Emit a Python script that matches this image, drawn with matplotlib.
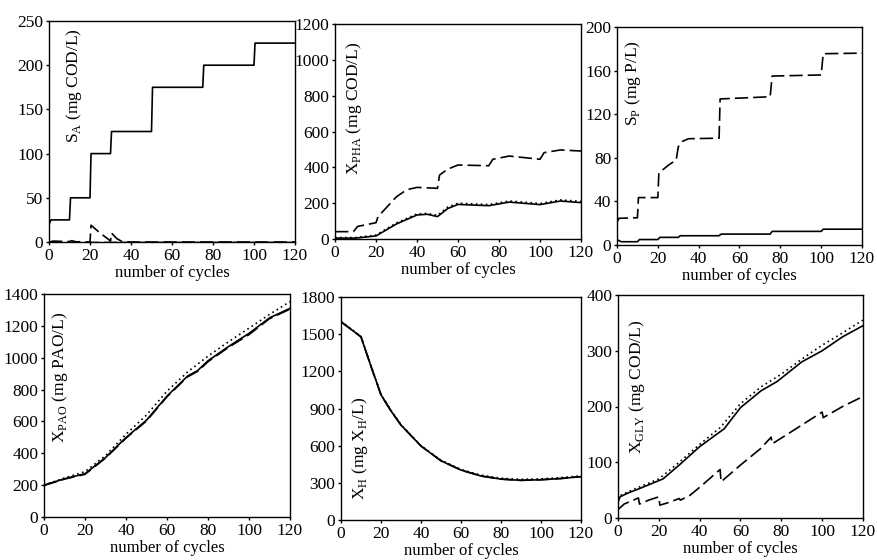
import numpy as np
import matplotlib
matplotlib.use('Agg')
import matplotlib.pyplot as plt

plt.rcParams['font.family'] = ['Liberation Serif', 'DejaVu Serif']
plt.rcParams['mathtext.fontset'] = 'custom'
plt.rcParams['mathtext.rm'] = 'Liberation Serif'
plt.rcParams['font.size'] = 12

# ---- S_A ----
sa_solid_x = [0, 1, 10, 10.5, 20, 20.5, 30, 30.5, 50, 50.5, 75, 75.5, 100, 100.5, 120]
sa_solid_y = [20, 25, 25, 50, 50, 100, 100, 125, 125, 175, 175, 200, 200, 225, 225]
sa_dash_x = [0, 2, 10, 11, 13, 20, 20.5, 25, 29, 30, 30.5, 33, 36, 120]
sa_dash_y = [0, 1, 0.5, 1.5, 0.3, 0, 19, 10, 3, 1, 10, 4, 0, 0]
sa_dot_x = [0, 120]
sa_dot_y = [0, 0]

# ---- X_PHA ----
pha_solid_x = [0, 10, 20, 30, 40, 45, 50, 55, 60, 75, 85, 100, 110, 120]
pha_solid_y = [5, 5, 17, 84, 134, 138, 125, 170, 193, 186, 206, 192, 212, 203]
pha_dot_x = [0, 10, 20, 30, 40, 45, 50, 55, 60, 75, 85, 100, 110, 120]
pha_dot_y = [8, 8, 22, 90, 140, 143, 132, 178, 200, 192, 212, 198, 218, 210]
pha_dash_x = [0, 9, 11, 20, 21, 30, 35, 40, 50, 51, 55, 60, 75, 77, 85, 100, 102, 110, 120]
pha_dash_y = [41, 41, 70, 91, 125, 236, 275, 288, 283, 357, 390, 413, 409, 445, 463, 445, 482, 497, 491]

# ---- S_P ----
sp_solid_x = [0, 2, 10, 11, 20, 21, 30, 31, 50, 51, 75, 76, 100, 101, 120]
sp_solid_y = [5, 3, 3, 5, 5, 7, 7, 8.5, 8.5, 10, 10, 12.5, 12.5, 14.5, 14.5]
sp_dash_x = [0, 1, 10, 10.5, 20, 20.5, 25, 29, 30, 32, 35, 50, 50.5, 75, 76, 100, 101, 120]
sp_dash_y = [21, 24.5, 25, 43.5, 43.5, 66, 73, 78, 90, 95, 97.5, 98, 134, 136, 155, 156, 175.5, 176]

# ---- X_PAO ----
pao_x = [0, 10, 20, 30, 40, 50, 60, 70, 75, 80, 90, 100, 110, 120]
pao_solid_y = [200, 240, 272, 373, 499, 608, 759, 884, 920, 981, 1070, 1153, 1250, 1310]
pao_dash_y = [198, 238, 268, 370, 495, 603, 755, 880, 915, 975, 1065, 1145, 1245, 1305]
pao_dot_y = [200, 245, 285, 385, 520, 640, 790, 910, 960, 1010, 1100, 1185, 1272, 1352]

# ---- X_H ----
xh_x = [0, 10, 15, 20, 25, 30, 40, 50, 60, 70, 80, 90, 100, 110, 120]
xh_solid_y = [1600, 1478, 1240, 1010, 880, 766, 597, 478, 403, 355, 330, 320, 325, 335, 350]
xh_dot_y = [1605, 1482, 1245, 1015, 885, 770, 600, 482, 408, 362, 337, 328, 332, 342, 357]

# ---- X_GLY ----
gly_solid_x = [0, 1, 5, 10, 20, 22, 30, 40, 52, 60, 70, 78, 90, 100, 110, 120]
gly_solid_y = [28, 38, 45, 52, 67, 70, 95, 128, 160, 198, 228, 245, 280, 300, 325, 345]
gly_dot_x = [0, 1, 5, 10, 20, 30, 40, 50, 60, 70, 80, 90, 100, 110, 120]
gly_dot_y = [33, 40, 47, 55, 70, 100, 132, 162, 205, 235, 258, 285, 310, 332, 355]
gly_dash_x = [0, 3, 10, 10.5, 15, 20, 20.5, 25, 30, 30.5, 35, 40, 50, 50.5, 60, 70, 75, 75.5, 85, 100, 100.5, 110, 120]
gly_dash_y = [15, 25, 36, 25, 32, 38, 23, 28, 35, 32, 40, 55, 87, 65, 95, 125, 145, 133, 155, 190, 180, 200, 218]

DASH = (0, (8, 3))
DOT = (0, (1, 2))
LW = 1.2


def setup(ax, ymax, ystep, label, lx, ly, va='top'):
    ax.set_xlim(0, 120)
    ax.set_ylim(0, ymax)
    ax.set_xticks(np.arange(0, 121, 20))
    ax.set_yticks(np.arange(0, ymax + 1, ystep))
    ax.tick_params(direction='out', length=2.5, width=1, pad=1.5,
                   top=False, right=False, labelsize=12.5)
    for s in ax.spines.values():
        s.set_linewidth(1)
    ax.set_xlabel('number of cycles', fontsize=12, labelpad=1)
    ax.text(lx, ly, label, transform=ax.transAxes, rotation=90,
            ha='center', va=va, fontsize=12.5)


W, H = 878, 560
fig = plt.figure(figsize=(W / 100, H / 100), dpi=100)


def axes_px(left, top, right, bottom):
    return fig.add_axes([left / W, 1 - bottom / H, (right - left) / W, (bottom - top) / H])


ax1 = axes_px(49, 21, 295, 242)
ax1.plot(sa_dot_x, sa_dot_y, color='0.6', lw=LW, ls=DASH)
ax1.plot(sa_solid_x, sa_solid_y, color='k', lw=LW)
ax1.plot(sa_dash_x, sa_dash_y, color='k', lw=LW, ls=DASH)
setup(ax1, 250, 50, r'S$_\mathregular{A}$ (mg COD/L)', 0.1, 0.968)

ax2 = axes_px(335, 24, 581, 239)
ax2.plot(pha_dot_x, pha_dot_y, color='k', lw=LW, ls=DOT)
ax2.plot(pha_solid_x, pha_solid_y, color='k', lw=LW)
ax2.plot(pha_dash_x, pha_dash_y, color='k', lw=LW, ls=DASH)
setup(ax2, 1200, 200, r'X$_\mathregular{PHA}$ (mg COD/L)', 0.077, 0.916)

ax3 = axes_px(617, 27, 862, 245)
ax3.plot(sp_solid_x, sp_solid_y, color='k', lw=LW)
ax3.plot(sp_dash_x, sp_dash_y, color='k', lw=LW, ls=DASH)
setup(ax3, 200, 40, r'S$_\mathregular{P}$ (mg P/L)', 0.065, 0.94)

ax4 = axes_px(44, 294, 290, 517)
ax4.plot(pao_x, pao_dot_y, color='k', lw=LW, ls=DOT)
ax4.plot(pao_x, pao_solid_y, color='k', lw=LW)
ax4.plot(pao_x, pao_dash_y, color='k', lw=LW, ls=DASH)
setup(ax4, 1400, 200, r'X$_\mathregular{PAO}$ (mg PAO/L)', 0.065, 0.92)

ax5 = axes_px(341, 297, 581, 520)
ax5.plot(xh_x, xh_dot_y, color='k', lw=LW, ls=DOT)
ax5.plot(xh_x, xh_solid_y, color='k', lw=LW)
ax5.plot(xh_x, xh_solid_y, color='k', lw=LW, ls=DASH)
setup(ax5, 1800, 300, r'X$_\mathregular{H}$ (mg X$_\mathregular{H}$/L)', 0.08, 0.09, va='bottom')

ax6 = axes_px(618, 295, 863, 518)
ax6.plot(gly_dot_x, gly_dot_y, color='k', lw=LW, ls=DOT)
ax6.plot(gly_solid_x, gly_solid_y, color='k', lw=LW)
ax6.plot(gly_dash_x, gly_dash_y, color='k', lw=LW, ls=DASH)
setup(ax6, 400, 100, r'X$_\mathregular{GLY}$ (mg COD/L)', 0.078, 0.89)

fig.savefig('out.png', dpi=100)
